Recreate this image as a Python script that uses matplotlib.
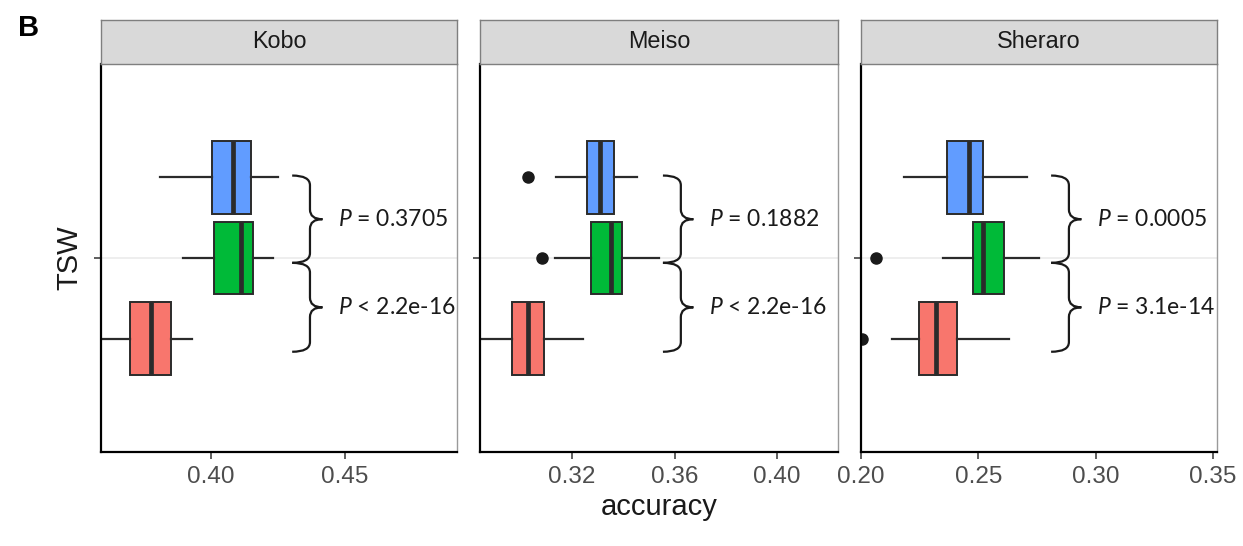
import numpy as np
import matplotlib
matplotlib.use("Agg")
import matplotlib.pyplot as plt
from matplotlib.path import Path
from matplotlib.patches import PathPatch
import matplotlib.transforms as mtransforms

plt.rcParams['font.family'] = ['Liberation Sans', 'DejaVu Sans']
plt.rcParams['mathtext.fontset'] = 'custom'
plt.rcParams['mathtext.it'] = 'Lato:italic'
plt.rcParams['mathtext.rm'] = 'Lato'

# data: one row per site, groups ordered bottom (red) -> middle (green) -> top (blue)
sites = ["Kobo", "Meiso", "Sheraro"]
group_colors = ["#F8766D", "#00BA38", "#619CFF"]
group_pos = [0.75, 1.0, 1.25]

med = [[0.3776, 0.4112, 0.4082],
       [0.3028, 0.3352, 0.3309],
       [0.2320, 0.2520, 0.2460]]
q1 = [[0.3698, 0.4011, 0.4004],
      [0.2966, 0.3274, 0.3259],
      [0.2247, 0.2477, 0.2367]]
q3 = [[0.3851, 0.4157, 0.4149],
      [0.3091, 0.3395, 0.3364],
      [0.2409, 0.2610, 0.2520]]
whislo = [[0.3550, 0.3896, 0.3810],
          [0.2800, 0.3134, 0.3138],
          [0.2132, 0.2350, 0.2183]]
whishi = [[0.3929, 0.4231, 0.4250],
          [0.3243, 0.3540, 0.3454],
          [0.2630, 0.2759, 0.2708]]
fliers = [[[], [], []],
          [[], [0.3083], [0.3028]],
          [[0.2004], [0.2064], []]]

p_upper = ["= 0.3705", "= 0.1882", "= 0.0005"]
p_lower = ["< 2.2e-16", "< 2.2e-16", "= 3.1e-14"]

xlims = [(0.359, 0.4918), (0.2841, 0.4238), (0.200, 0.3517)]
xticks = [[0.40, 0.45], [0.32, 0.36, 0.40], [0.20, 0.25, 0.30, 0.35]]

# layout (figure fractions)
W, H = 1243, 546
panel_left = [101, 480, 861]
panel_w = [356, 358, 356]
panel_top, panel_bot = 64, 452
strip_top = 20
brace_x = [0.537, 0.511, 0.534]

fig = plt.figure(figsize=(W / 100, H / 100), dpi=100)


def brace(ax, y_top, y_bot, xa):
    xv = xa + 0.05
    xt = xa + 0.085
    ym = (y_top + y_bot) / 2
    r = 0.03
    verts = [(xa, y_top), (xv, y_top), (xv, y_top - r),
             (xv, ym + r), (xv, ym), (xt, ym),
             (xv, ym), (xv, ym - r),
             (xv, y_bot + r), (xv, y_bot), (xa, y_bot)]
    codes = [Path.MOVETO, Path.CURVE3, Path.CURVE3,
             Path.LINETO, Path.CURVE3, Path.CURVE3,
             Path.CURVE3, Path.CURVE3,
             Path.LINETO, Path.CURVE3, Path.CURVE3]
    trans = mtransforms.blended_transform_factory(ax.transAxes, ax.transData)
    ax.add_patch(PathPatch(Path(verts, codes), fill=False, lw=1.6,
                           edgecolor="#1a1a1a", transform=trans, clip_on=False))
    return xt, ym


for i, site in enumerate(sites):
    l = panel_left[i] / W
    w = panel_w[i] / W
    b = 1 - panel_bot / H
    h = (panel_bot - panel_top) / H
    ax = fig.add_axes([l, b, w, h])

    stats = []
    for g in range(3):
        stats.append(dict(med=med[i][g], q1=q1[i][g], q3=q3[i][g],
                          whislo=whislo[i][g], whishi=whishi[i][g],
                          fliers=fliers[i][g]))
    ax.axhline(1.0, color="#EBEBEB", lw=1.2, zorder=0)
    bp = ax.bxp(stats, positions=group_pos, widths=0.225, orientation='horizontal',
                patch_artist=True, showcaps=False,
                boxprops=dict(edgecolor="#2b2b2b", lw=1.4),
                whiskerprops=dict(color="#2b2b2b", lw=1.6),
                medianprops=dict(color="#2b2b2b", lw=3.4),
                flierprops=dict(marker="o", markerfacecolor="#1a1a1a",
                                markeredgecolor="#1a1a1a", markersize=8))
    for patch, c in zip(bp["boxes"], group_colors):
        patch.set_facecolor(c)

    ax.set_xlim(*xlims[i])
    ax.set_ylim(0.4, 1.6)
    ax.set_xticks(xticks[i])
    ax.set_xticklabels(["%.2f" % t for t in xticks[i]])
    ax.set_yticks([1.0])
    ax.set_yticklabels([])
    ax.tick_params(axis="both", direction="out", length=5, width=1.1,
                   color="#333333", labelsize=17.5, labelcolor="#4D4D4D", pad=5)
    for s in ["left", "bottom"]:
        ax.spines[s].set_color("black")
        ax.spines[s].set_linewidth(1.6)
    ax.spines["top"].set_color("#333333")
    ax.spines["top"].set_linewidth(1.2)
    ax.spines["right"].set_color("#9A9A9A")
    ax.spines["right"].set_linewidth(1.0)

    # significance braces
    xt, ym = brace(ax, 1.255, 0.985, brace_x[i])
    trans = mtransforms.blended_transform_factory(ax.transAxes, ax.transData)
    ax.annotate(r"$P$ " + p_upper[i], xy=(xt, ym), xycoords=trans,
                xytext=(11, 0), textcoords="offset points", va="center",
                fontsize=16.5, family="Lato", color="#1a1a1a")
    xt, ym = brace(ax, 0.985, 0.71, brace_x[i])
    ax.annotate(r"$P$ " + p_lower[i], xy=(xt, ym), xycoords=trans,
                xytext=(11, 0), textcoords="offset points", va="center",
                fontsize=16.5, family="Lato", color="#1a1a1a")

    if i == 0:
        ax.set_ylabel("TSW", fontsize=21, color="#1a1a1a", labelpad=3)
    if i == 1:
        ax.set_xlabel("accuracy", fontsize=21, color="#1a1a1a", labelpad=4)

    # facet strip
    sax = fig.add_axes([l, 1 - panel_top / H, w, (panel_top - strip_top) / H])
    sax.set_facecolor("#D9D9D9")
    sax.set_xticks([])
    sax.set_yticks([])
    for s in sax.spines.values():
        s.set_color("#7F7F7F")
        s.set_linewidth(1.0)
    sax.text(0.5, 0.5, site, ha="center", va="center", fontsize=16.8,
             color="#1a1a1a", transform=sax.transAxes)

fig.text(18 / W, 1 - 28 / H, "B", fontsize=21, fontweight="bold", va="center")

fig.savefig("out.png", dpi=100)
